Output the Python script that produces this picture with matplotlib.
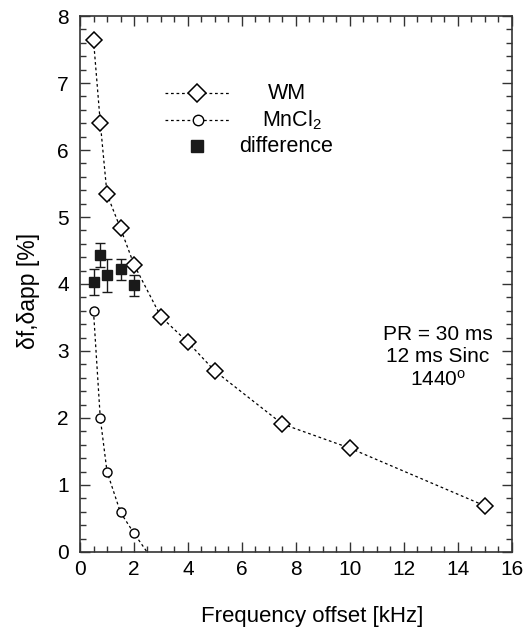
# Gráfico: deslocamento de frequência vs. delta (WM, MnCl2, diferença)
import matplotlib.pyplot as plt
from matplotlib.ticker import MultipleLocator

plt.rcParams["font.family"] = ["Liberation Sans", "DejaVu Sans"]
plt.rcParams["mathtext.default"] = "regular"

# ---- dados ----
wm_x = [0.5, 0.75, 1.0, 1.5, 2.0, 3.0, 4.0, 5.0, 7.5, 10.0, 15.0]
wm_y = [7.64, 6.41, 5.34, 4.83, 4.29, 3.51, 3.13, 2.70, 1.91, 1.55, 0.69]

mn_x = [0.5, 0.75, 1.0, 1.5, 2.0, 3.0]
mn_y = [3.59, 2.00, 1.20, 0.59, 0.28, -0.30]

diff_x = [0.5, 0.75, 1.0, 1.5, 2.0]
diff_y = [4.03, 4.43, 4.13, 4.22, 3.98]
diff_err = [0.20, 0.18, 0.25, 0.16, 0.16]

# ---- figura ----
fig = plt.figure(figsize=(5.3, 6.33), dpi=100)
ax = fig.add_axes([0.151, 0.128, 0.8145, 0.8467])

dash = (0, (2.2, 2.2))
ax.plot(wm_x, wm_y, color="black", lw=0.9, linestyle=dash, marker="D",
        markersize=8, markerfacecolor="white", markeredgecolor="black",
        markeredgewidth=1.1, zorder=3)
ax.plot(mn_x, mn_y, color="black", lw=0.9, linestyle=dash, marker="o",
        markersize=6.5, markerfacecolor="white", markeredgecolor="black",
        markeredgewidth=1.0, zorder=3)
ax.errorbar(diff_x, diff_y, yerr=diff_err, fmt="s", color="#1a1a1a",
            markersize=7.5, ecolor="#1a1a1a", elinewidth=1.0, capsize=3.5,
            capthick=1.0, zorder=4)

# ---- eixos ----
ax.set_xlim(0, 16)
ax.set_ylim(0, 8)
ax.xaxis.set_major_locator(MultipleLocator(2))
ax.xaxis.set_minor_locator(MultipleLocator(0.5))
ax.yaxis.set_major_locator(MultipleLocator(1))
ax.yaxis.set_minor_locator(MultipleLocator(0.2))
ax.tick_params(which="both", direction="in", top=True, right=True,
               color="#333333", width=1.0)
ax.tick_params(which="major", length=7, labelsize=15)
ax.tick_params(which="minor", length=4)
ax.tick_params(axis="x", pad=6)
ax.tick_params(axis="y", pad=8)
for s in ax.spines.values():
    s.set_linewidth(1.2)
    s.set_color("#333333")

ax.set_xlabel("Frequency offset [kHz]", fontsize=16, va="center")
ax.xaxis.set_label_coords(0.537, -0.121)
ax.set_ylabel("δf,δapp [%]", fontsize=16.5, va="center")
ax.yaxis.set_label_coords(-0.120, 0.487)

# ---- legenda manual (texto centrado) ----
tr = ax.transAxes
rows = [0.856, 0.806, 0.757]
ax.plot([0.197, 0.347], [rows[0], rows[0]], transform=tr, color="black",
        lw=0.9, linestyle=dash)
ax.plot([0.270], [rows[0]], transform=tr, marker="D", markersize=9.5,
        markerfacecolor="white", markeredgecolor="black", markeredgewidth=1.1)
ax.plot([0.197, 0.347], [rows[1], rows[1]], transform=tr, color="black",
        lw=0.9, linestyle=dash)
ax.plot([0.273], [rows[1]], transform=tr, marker="o", markersize=7.5,
        markerfacecolor="white", markeredgecolor="black", markeredgewidth=1.0)
ax.plot([0.270], [rows[2]], transform=tr, marker="s", markersize=8.5,
        color="#1a1a1a")
ax.text(0.480, rows[0], "WM", transform=tr, ha="center", va="center", fontsize=15.5)
ax.text(0.490, rows[1], "MnCl$_2$", transform=tr, ha="center", va="center", fontsize=15.5)
ax.text(0.477, rows[2], "difference", transform=tr, ha="center", va="center", fontsize=15.5)

# ---- anotação ----
ax.text(0.829, 0.363, "PR = 30 ms\n12 ms Sinc\n1440$^{o}$", transform=tr,
        ha="center", va="center", fontsize=15, linespacing=1.2)

fig.savefig("out.png", dpi=100)
